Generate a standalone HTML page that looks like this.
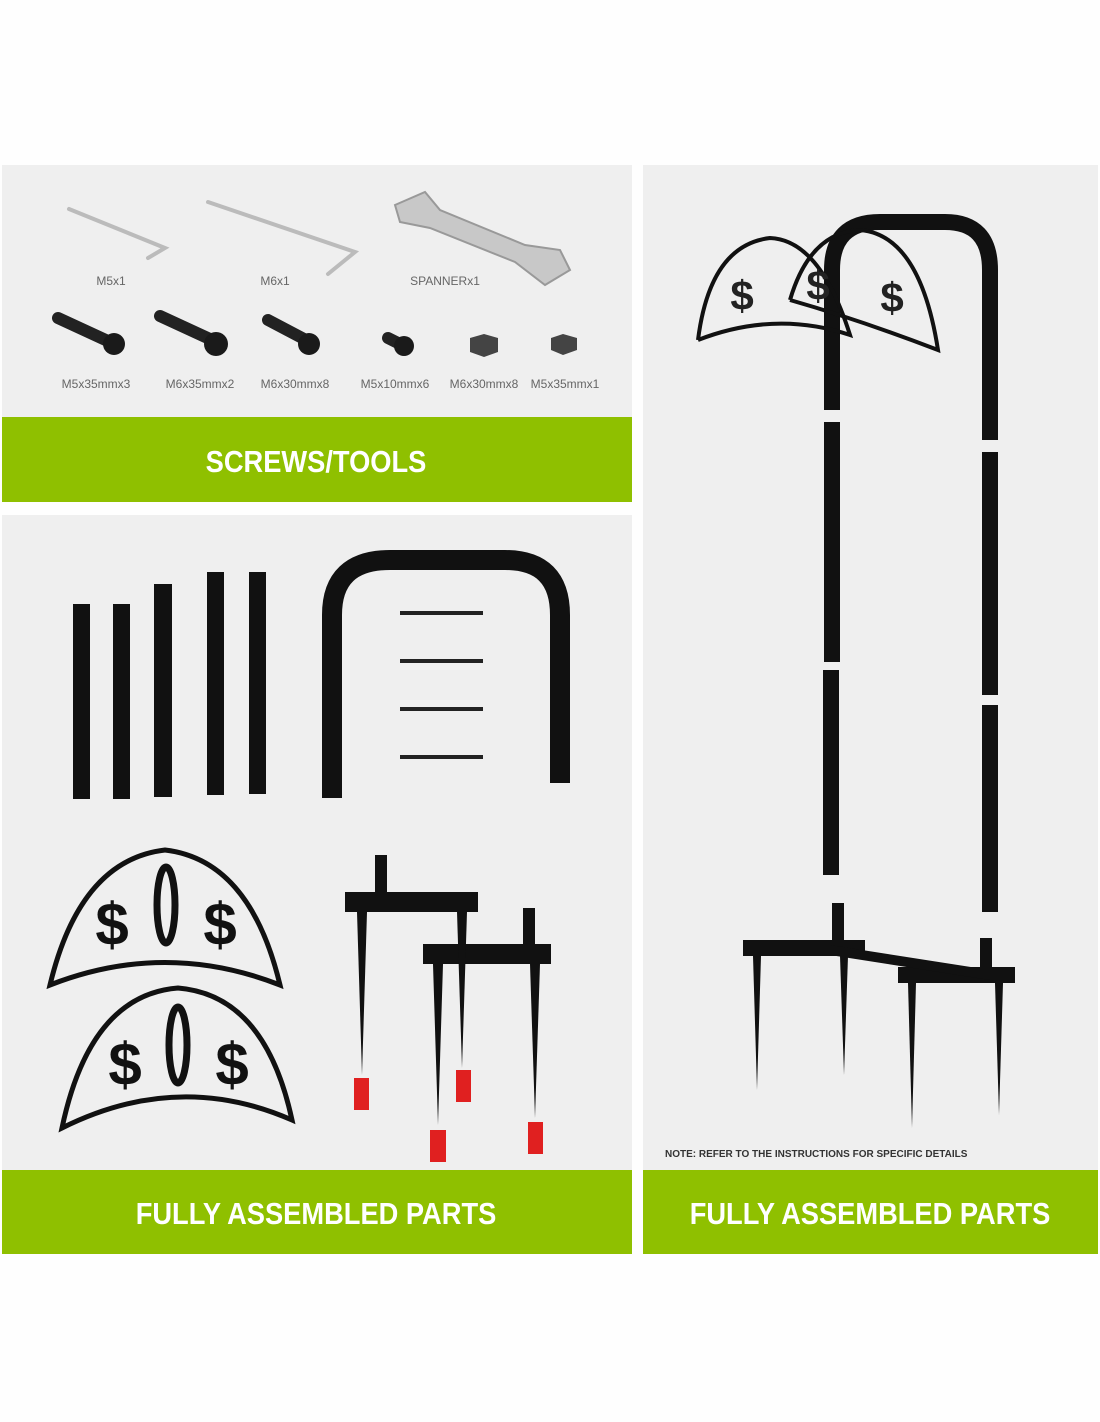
<!DOCTYPE html>
<html><head><meta charset="utf-8"><style>
html,body{margin:0;padding:0;background:#fefefe;}
svg{display:block}
</style></head><body>
<svg width="1100" height="1422" viewBox="0 0 1100 1422" xmlns="http://www.w3.org/2000/svg" font-family="Liberation Sans, sans-serif">
<rect width="1100" height="1422" fill="#fefefe"/>
<!-- panels -->
<rect x="2" y="165" width="630" height="252" fill="#efefef"/>
<rect x="2" y="417" width="630" height="85" fill="#8fc000"/>
<rect x="2" y="515" width="630" height="655" fill="#efefef"/>
<rect x="2" y="1170" width="630" height="84" fill="#8fc000"/>
<rect x="643" y="165" width="455" height="1005" fill="#efefef"/>
<rect x="643" y="1170" width="455" height="84" fill="#8fc000"/>
<g fill="#fff" font-weight="bold" text-anchor="middle" font-size="31">
<text x="316" y="472" transform="translate(316 0) scale(0.88 1) translate(-316 0)">SCREWS/TOOLS</text>
<text x="316" y="1224" transform="translate(316 0) scale(0.88 1) translate(-316 0)">FULLY ASSEMBLED PARTS</text>
<text x="870" y="1224" transform="translate(870 0) scale(0.88 1) translate(-870 0)">FULLY ASSEMBLED PARTS</text>
</g>
<!-- tools -->
<g stroke="#bbb" stroke-width="4" fill="none" stroke-linecap="round">
<path d="M69 209 L165 248 L148 258"/>
<path d="M208 202 L355 252 L328 274"/>
</g>
<path d="M395 205 L425 192 L440 210 L525 245 L560 250 L570 270 L545 285 L515 262 L430 228 L400 222 Z" fill="#c8c8c8" stroke="#999" stroke-width="2"/>
<g fill="#666" font-size="12" text-anchor="middle">
<text x="111" y="285">M5x1</text><text x="275" y="285">M6x1</text><text x="445" y="285">SPANNERx1</text>
<text x="96" y="388">M5x35mmx3</text><text x="200" y="388">M6x35mmx2</text><text x="295" y="388">M6x30mmx8</text>
<text x="395" y="388">M5x10mmx6</text><text x="484" y="388">M6x30mmx8</text><text x="565" y="388">M5x35mmx1</text>
</g>
<g stroke="#222" stroke-width="12" stroke-linecap="round">
<line x1="58" y1="318" x2="110" y2="342"/><line x1="160" y1="316" x2="212" y2="340"/><line x1="268" y1="320" x2="306" y2="340"/><line x1="388" y1="338" x2="400" y2="344"/>
</g>
<g fill="#1a1a1a"><circle cx="114" cy="344" r="11"/><circle cx="216" cy="344" r="12"/><circle cx="309" cy="344" r="11"/><circle cx="404" cy="346" r="10"/>
<polygon points="470,338 484,334 498,338 498,352 484,357 470,352" fill="#444"/><polygon points="551,338 563,334 577,338 577,350 563,355 551,350" fill="#444"/></g>
<!-- tubes -->
<g fill="#111">
<rect x="73" y="604" width="17" height="195"/><rect x="113" y="604" width="17" height="195"/><rect x="154" y="584" width="18" height="213"/><rect x="207" y="572" width="17" height="223"/><rect x="249" y="572" width="17" height="222"/>
</g>
<path d="M332 798 L332 615 Q332 560 390 560 L505 560 Q560 560 560 615 L560 783" fill="none" stroke="#111" stroke-width="20"/>
<g stroke="#222" stroke-width="4"><line x1="400" y1="613" x2="483" y2="613"/><line x1="400" y1="661" x2="483" y2="661"/><line x1="400" y1="709" x2="483" y2="709"/><line x1="400" y1="757" x2="483" y2="757"/></g>
<!-- hangers -->
<g fill="none" stroke="#111" stroke-width="5">
<path d="M50 985 Q80 860 165 850 Q250 860 280 985 Q165 940 50 985 Z"/>
<path d="M62 1128 Q90 995 178 988 Q265 995 292 1120 Q178 1070 62 1128 Z"/>
</g>
<g fill="#111" font-size="60" font-weight="bold" text-anchor="middle">
<text x="112" y="945">$</text><text x="220" y="945">$</text><text x="125" y="1085">$</text><text x="232" y="1085">$</text>
</g>
<ellipse cx="166" cy="905" rx="9" ry="38" fill="none" stroke="#111" stroke-width="7"/>
<ellipse cx="178" cy="1045" rx="9" ry="38" fill="none" stroke="#111" stroke-width="7"/>
<!-- stakes -->
<g fill="#111">
<rect x="345" y="892" width="133" height="20"/><rect x="375" y="855" width="12" height="40"/>
<rect x="423" y="944" width="128" height="20"/><rect x="523" y="908" width="12" height="40"/>
<polygon points="357,912 367,912 362,1075"/><polygon points="457,912 467,912 462,1068"/><polygon points="433,964 443,964 438,1125"/><polygon points="530,964 540,964 535,1118"/>
</g>
<g fill="#e02020"><rect x="354" y="1078" width="15" height="32"/><rect x="456" y="1070" width="15" height="32"/><rect x="430" y="1130" width="16" height="32"/><rect x="528" y="1122" width="15" height="32"/></g>
<!-- assembled -->
<path d="M832 410 L832 270 Q832 222 880 222 L945 222 Q990 222 990 270 L990 440" fill="none" stroke="#111" stroke-width="16"/>
<g fill="#111">
<rect x="824" y="422" width="16" height="240"/><rect x="982" y="452" width="16" height="243"/>
<rect x="823" y="670" width="16" height="205"/><rect x="982" y="705" width="16" height="207"/>
<rect x="743" y="940" width="122" height="16"/><rect x="898" y="967" width="117" height="16"/>
<polygon points="830,945 990,970 990,980 830,955"/>
<rect x="832" y="903" width="12" height="40"/><rect x="980" y="938" width="12" height="40"/>
<polygon points="753,956 761,956 757,1090"/><polygon points="840,956 848,956 844,1075"/><polygon points="908,983 916,983 912,1128"/><polygon points="995,983 1003,983 999,1115"/>
</g>
<g fill="none" stroke="#111" stroke-width="4">
<path d="M698 340 Q710 245 770 238 Q820 240 850 335 Q775 310 698 340"/>
<path d="M790 300 Q810 232 860 230 Q920 235 938 350 Q860 320 790 300"/>
</g>
<g fill="#222" font-size="42" font-weight="bold" text-anchor="middle"><text x="742" y="310">$</text><text x="818" y="300">$</text><text x="892" y="312">$</text></g>
<text x="665" y="1157" font-size="10" fill="#333" font-weight="bold">NOTE: REFER TO THE INSTRUCTIONS FOR SPECIFIC DETAILS</text>
</svg>
</body></html>
